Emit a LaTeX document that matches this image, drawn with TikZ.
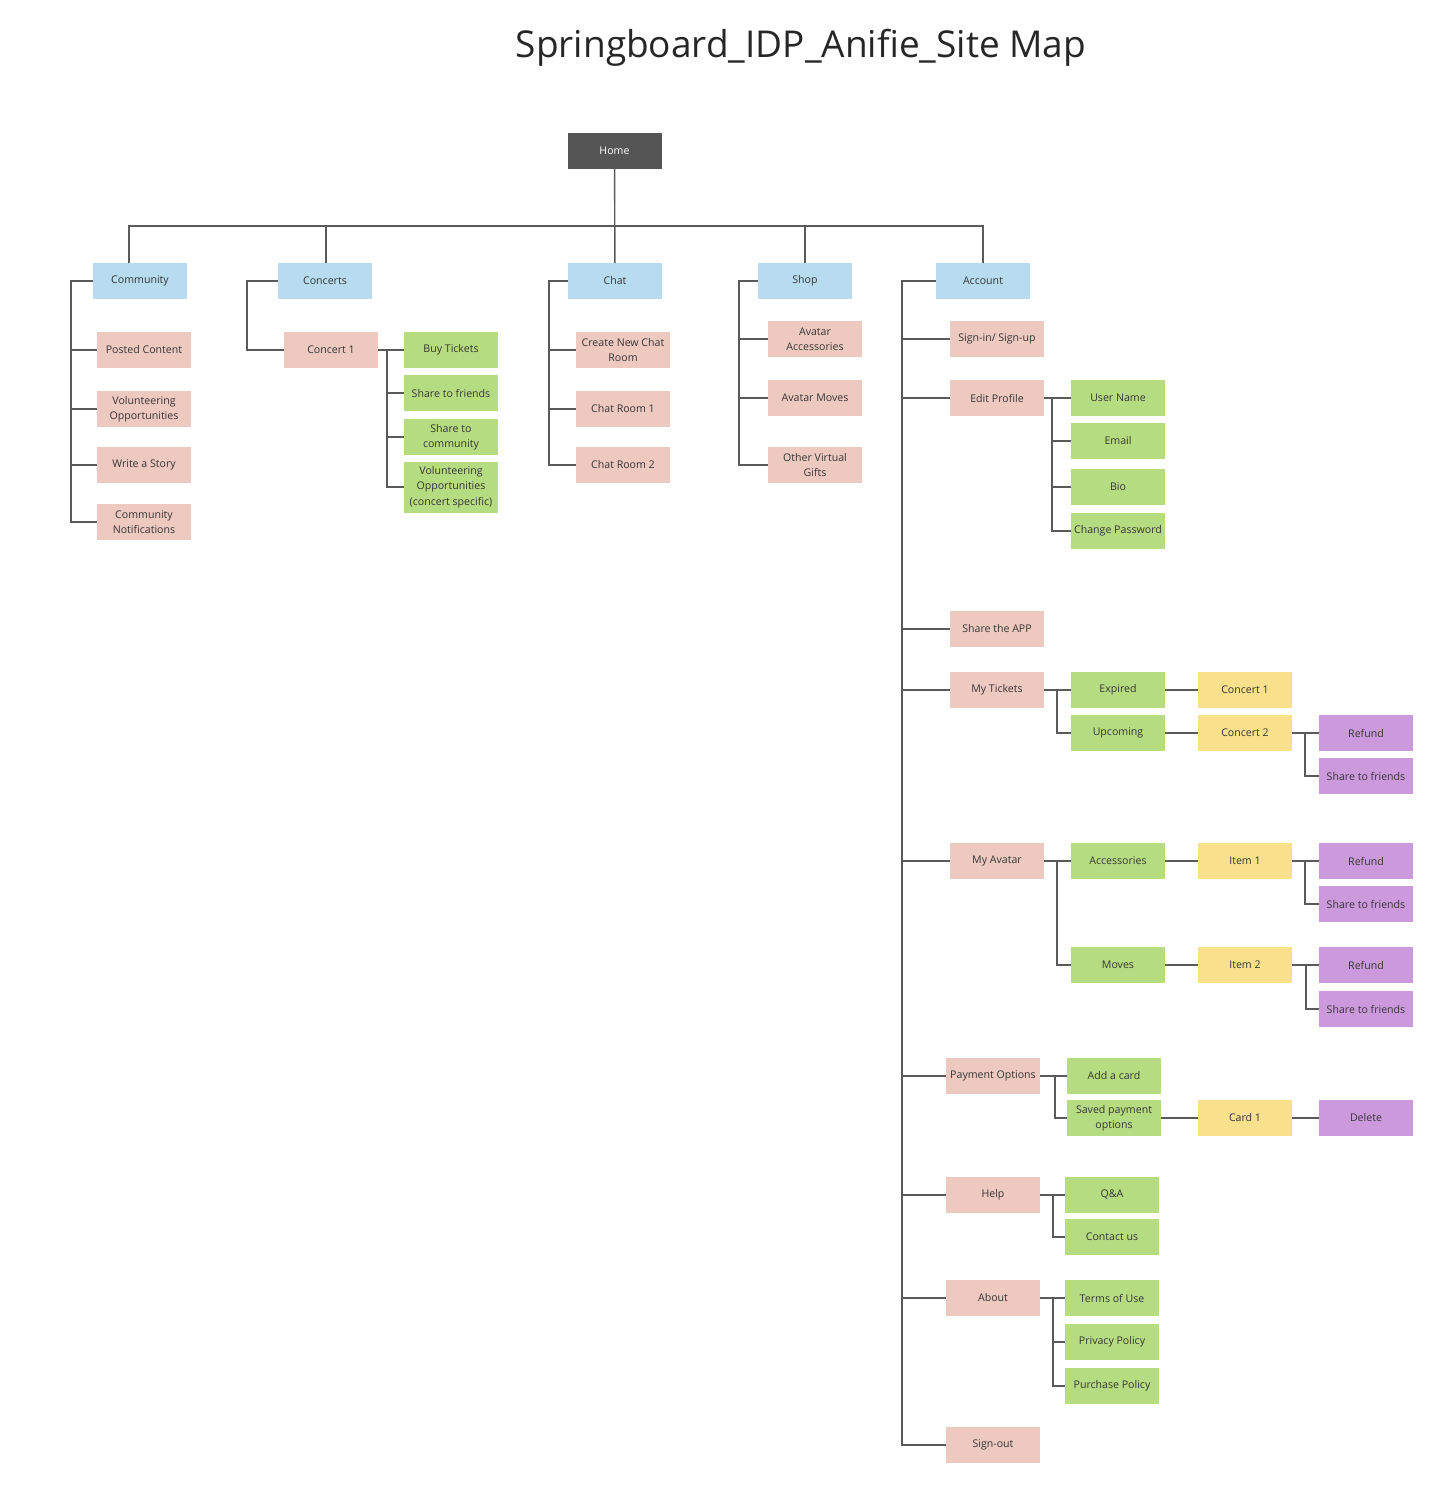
\documentclass[tikz,border=0pt]{standalone}
\usepackage{fontspec}
\setmainfont{Open Sans}
\usepackage{tikz}
\usetikzlibrary{positioning}
\usetikzlibrary{calc}
\definecolor{homegray}{HTML}{555555}
\definecolor{secblue}{HTML}{B7DCEF}
\definecolor{pagepink}{HTML}{EEC9BF}
\definecolor{subgreen}{HTML}{B6DC82}
\definecolor{itemyellow}{HTML}{F8E08C}
\definecolor{actpurple}{HTML}{CC9ADC}
\definecolor{linegray}{HTML}{5A5A5A}
\definecolor{txtgray}{HTML}{363636}
\pgfdeclarelayer{nodelayer}
\pgfdeclarelayer{edgelayer}
\pgfsetlayers{edgelayer,nodelayer,main}
\tikzset{sitebox/.style={inner sep=1pt, minimum width=94pt, minimum height=36pt, align=center,
text=txtgray, font=\fontsize{10.6}{15.5}\selectfont, anchor=center}}
\tikzset{homebox/.style={sitebox, fill=homegray, text=white}}
\tikzset{secbox/.style={sitebox, fill=secblue}}
\tikzset{pagebox/.style={sitebox, fill=pagepink}}
\tikzset{subbox/.style={sitebox, fill=subgreen}}
\tikzset{itembox/.style={sitebox, fill=itemyellow}}
\tikzset{actbox/.style={sitebox, fill=actpurple}}
\tikzset{wire/.style={draw=linegray, line width=1.4pt}}
\begin{document}
\begin{tikzpicture}[x=1pt, y=-1pt]
        \useasboundingbox (0,0) rectangle (1450,1492);
        \begin{pgfonlayer}{nodelayer}
            \node [font=\fontsize{37}{40}\selectfont, text=black!85] (title) at (801, 48) {Springboard\_IDP\_Anifie\_Site Map};
            \node [style=homebox] (home) at (614.5, 151) {Home};
            % sections
            \node [style=secbox] (comm) at (140, 281) {Community};
            \node [style=secbox] (conc) at (325, 281) {Concerts};
            \node [style=secbox] (chat) at (615, 281) {Chat};
            \node [style=secbox] (shop) at (805, 281) {Shop};
            \node [style=secbox] (acct) at (983, 281) {Account};
            % community
            \node [style=pagebox] (posted) at (144, 350) {Posted Content};
            \node [style=pagebox] (volun) at (144, 409) {Volunteering\\Opportunities};
            \node [style=pagebox] (story) at (144, 465) {Write a Story};
            \node [style=pagebox] (notif) at (144, 522) {Community\\Notifications};
            % concerts
            \node [style=pagebox] (c1) at (331, 350) {Concert 1};
            \node [style=subbox] (buy) at (451, 350) {Buy Tickets};
            \node [style=subbox] (sharef) at (451, 393) {Share to friends};
            \node [style=subbox] (sharec) at (451, 437) {Share to\\community};
            \node [style=subbox, minimum height=51pt] (volc) at (451, 487) {Volunteering\\Opportunities\\(concert specific)};
            % chat
            \node [style=pagebox] (newchat) at (623, 350) {Create New Chat\\Room};
            \node [style=pagebox] (room1) at (623, 409) {Chat Room 1};
            \node [style=pagebox] (room2) at (623, 465) {Chat Room 2};
            % shop
            \node [style=pagebox] (avacc) at (815, 339) {Avatar\\Accessories};
            \node [style=pagebox] (avmov) at (815, 398) {Avatar Moves};
            \node [style=pagebox] (gifts) at (815, 465) {Other Virtual\\Gifts};
            % account
            \node [style=pagebox] (signin) at (997, 339) {Sign-in/ Sign-up};
            \node [style=pagebox] (edit) at (997, 398) {Edit Profile};
            \node [style=pagebox] (shareapp) at (997, 629) {Share the APP};
            \node [style=pagebox] (tickets) at (997, 690) {My Tickets};
            \node [style=pagebox] (avatar) at (997, 861) {My Avatar};
            \node [style=pagebox] (pay) at (993, 1076) {Payment Options};
            \node [style=pagebox] (help) at (993, 1195) {Help};
            \node [style=pagebox] (about) at (993, 1298) {About};
            \node [style=pagebox] (signout) at (993, 1445) {Sign-out};
            % edit profile
            \node [style=subbox] (uname) at (1118, 398) {User Name};
            \node [style=subbox] (email) at (1118, 441) {Email};
            \node [style=subbox] (bio) at (1118, 487) {Bio};
            \node [style=subbox] (chpw) at (1118, 531) {Change Password};
            % my tickets
            \node [style=subbox] (expired) at (1118, 690) {Expired};
            \node [style=subbox] (upcoming) at (1118, 733) {Upcoming};
            \node [style=itembox] (tc1) at (1245, 690) {Concert 1};
            \node [style=itembox] (tc2) at (1245, 733) {Concert 2};
            \node [style=actbox] (tref) at (1366, 733) {Refund};
            \node [style=actbox] (tshare) at (1366, 776) {Share to friends};
            % my avatar
            \node [style=subbox] (acc) at (1118, 861) {Accessories};
            \node [style=subbox] (moves) at (1118, 965) {Moves};
            \node [style=itembox] (item1) at (1245, 861) {Item 1};
            \node [style=itembox] (item2) at (1245, 965) {Item 2};
            \node [style=actbox] (aref1) at (1366, 861) {Refund};
            \node [style=actbox] (ashare1) at (1366, 904) {Share to friends};
            \node [style=actbox] (aref2) at (1366, 965) {Refund};
            \node [style=actbox] (ashare2) at (1366, 1009) {Share to friends};
            % payment
            \node [style=subbox] (addcard) at (1114, 1076) {Add a card};
            \node [style=subbox] (saved) at (1114, 1118) {Saved payment\\options};
            \node [style=itembox] (card1) at (1245, 1118) {Card 1};
            \node [style=actbox] (delete) at (1366, 1118) {Delete};
            % help, about
            \node [style=subbox] (qa) at (1112, 1195) {Q\&A};
            \node [style=subbox] (contact) at (1112, 1237) {Contact us};
            \node [style=subbox] (terms) at (1112, 1298) {Terms of Use};
            \node [style=subbox] (privacy) at (1112, 1342) {Privacy Policy};
            \node [style=subbox] (purchase) at (1112, 1386) {Purchase Policy};
        \end{pgfonlayer}
        \begin{pgfonlayer}{edgelayer}
            \coordinate (bus) at (0, 226);
            \coordinate (commsp) at (71, 281);
            \coordinate (concsp) at (247, 281);
            \coordinate (c1sp) at (387, 350);
            \coordinate (chatsp) at (549, 281);
            \coordinate (shopsp) at (739, 281);
            \coordinate (acctsp) at (902, 281);
            \coordinate (editsp) at (1052, 398);
            \coordinate (ticksp) at (1057, 690);
            \coordinate (tc2sp) at (1305, 733);
            \coordinate (avsp) at (1057, 861);
            \coordinate (it1sp) at (1305, 861);
            \coordinate (it2sp) at (1306, 965);
            \coordinate (paysp) at (1055, 1076);
            \coordinate (helpsp) at (1053, 1195);
            \coordinate (aboutsp) at (1053, 1298);
            % home to sections
            \draw [wire] (home) to (chat);
            \draw [wire] ([xshift=-11pt]comm.north) |- (acct.north |- bus) to (acct.north);
            \draw [wire] ([xshift=1pt]conc.north) to ([xshift=1pt]conc.north |- bus);
            \draw [wire] (shop.north) to (shop.north |- bus);
            % community
            \draw [wire] (comm.west) to (commsp) |- (notif.west);
            \foreach \n in {posted,volun,story} \draw [wire] (commsp |- \n) to (\n.west);
            % concerts
            \draw [wire] (conc.west) to (concsp) |- (c1.west);
            \draw [wire] (c1) to (buy);
            \draw [wire] (c1sp) |- (volc.west);
            \foreach \n in {sharef,sharec} \draw [wire] (c1sp |- \n) to (\n.west);
            % chat
            \draw [wire] (chat.west) to (chatsp) |- (room2.west);
            \foreach \n in {newchat,room1} \draw [wire] (chatsp |- \n) to (\n.west);
            % shop
            \draw [wire] (shop.west) to (shopsp) |- (gifts.west);
            \foreach \n in {avacc,avmov} \draw [wire] (shopsp |- \n) to (\n.west);
            % account
            \draw [wire] (acct.west) to (acctsp) |- (signout.west);
            \foreach \n in {signin,edit,shareapp,tickets,avatar,pay,help,about} \draw [wire] (acctsp |- \n) to (\n.west);
            % edit profile
            \draw [wire] (edit) to (uname);
            \draw [wire] (editsp) |- (chpw.west);
            \foreach \n in {email,bio} \draw [wire] (editsp |- \n) to (\n.west);
            % my tickets
            \draw [wire] (tickets) to (expired);
            \draw [wire] (ticksp) |- (upcoming.west);
            \draw [wire] (expired) to (tc1);
            \draw [wire] (upcoming) to (tc2);
            \draw [wire] (tc2) to (tref);
            \draw [wire] (tc2sp) |- (tshare.west);
            % my avatar
            \draw [wire] (avatar) to (acc);
            \draw [wire] (avsp) |- (moves.west);
            \draw [wire] (acc) to (item1);
            \draw [wire] (moves) to (item2);
            \draw [wire] (item1) to (aref1);
            \draw [wire] (it1sp) |- (ashare1.west);
            \draw [wire] (item2) to (aref2);
            \draw [wire] (it2sp) |- (ashare2.west);
            % payment
            \draw [wire] (pay) to (addcard);
            \draw [wire] (paysp) |- (saved.west);
            \draw [wire] (saved) to (card1);
            \draw [wire] (card1) to (delete);
            % help, about
            \draw [wire] (help) to (qa);
            \draw [wire] (helpsp) |- (contact.west);
            \draw [wire] (about) to (terms);
            \draw [wire] (aboutsp) |- (purchase.west);
            \draw [wire] (aboutsp |- privacy) to (privacy.west);
        \end{pgfonlayer}
    \end{tikzpicture}
\end{document}
